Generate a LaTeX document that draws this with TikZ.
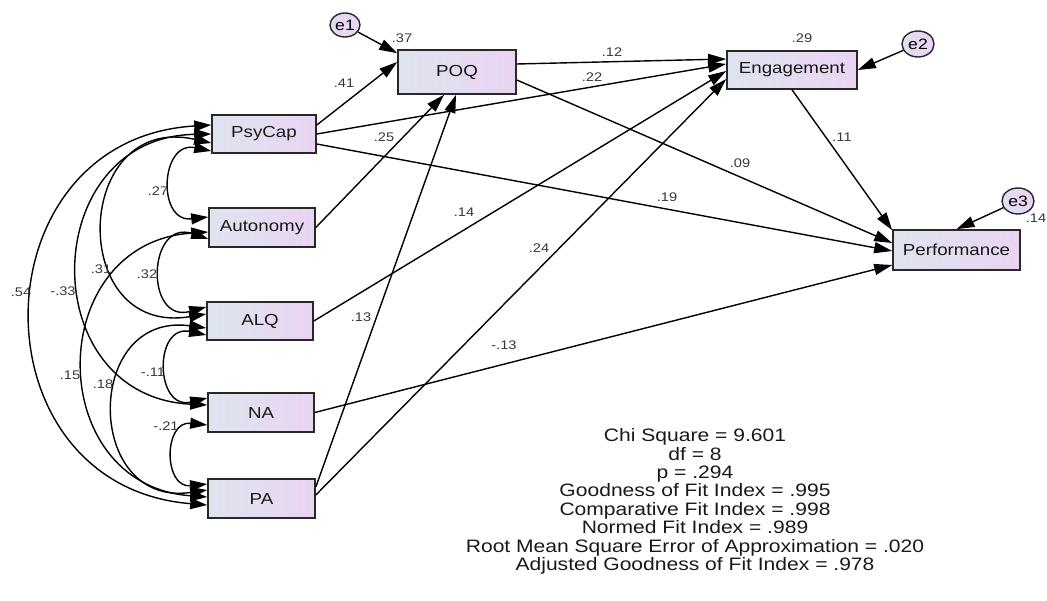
\documentclass[tikz,border=0pt]{standalone}
\usepackage{fontspec}
\setmainfont[FakeStretch=1.17]{Liberation Sans}
\usetikzlibrary{arrows.meta,shapes.geometric}

\definecolor{boxL}{RGB}{222,228,238}
\definecolor{boxR}{RGB}{234,212,242}
\definecolor{edge}{RGB}{40,40,40}
\definecolor{coef}{RGB}{55,55,55}

\tikzset{
  var/.style={draw=edge, line width=1.6pt, left color=boxL, right color=boxR,
    inner sep=0pt, font=\fontsize{16}{18}\selectfont, text=black!90},
  err/.style={ellipse, draw=edge, line width=1.4pt, left color=boxL!60!boxR,
    right color=boxR, inner sep=0pt, minimum width=32pt, minimum height=26pt,
    font=\fontsize{15}{17}\selectfont},
  path/.style={line width=1.4pt, draw=black, -{Triangle[length=18pt,width=11pt]}},
  cov/.style={line width=1.4pt, draw=black,
    {Triangle[length=17pt,width=11pt]}-{Triangle[length=17pt,width=11pt]}},
  coeff/.style={inner sep=0pt, text=coef, font=\fontsize{12.5}{14}\selectfont},
}

\begin{document}
\begin{tikzpicture}[x=1pt, y=-1pt]
\useasboundingbox (0,0) rectangle (1047,601);

% exogenous variables
\node[var, minimum width=104pt, minimum height=38pt] (psycap) at (264,134) {PsyCap};
\node[var, minimum width=106pt, minimum height=39pt] (auto) at (262,227.5) {Autonomy};
\node[var, minimum width=106pt, minimum height=38pt] (alq) at (260,321) {ALQ};
\node[var, minimum width=106pt, minimum height=39pt] (na) at (261,412.5) {NA};
\node[var, minimum width=107pt, minimum height=39pt] (pa) at (261.5,498.5) {PA};

% endogenous variables
\node[var, minimum width=118pt, minimum height=44pt] (poq) at (457,72) {POQ};
\node[var, minimum width=130pt, minimum height=38pt] (eng) at (792,70) {Engagement};
\node[var, minimum width=127pt, minimum height=40pt] (perf) at (956.5,250) {Performance};

% error terms
\node[err, minimum width=30pt, minimum height=24pt] (e1) at (345,25) {e1};
\node[err] (e2) at (918,44) {e2};
\node[err] (e3) at (1018,201) {e3};

% regression paths
\draw[path] (e1) -- ([yshift=-4pt]poq.north west);
\draw[path] (e2) -- (eng.east);
\draw[path] (e3) -- (perf.north);
\draw[path] ([yshift=9pt]psycap.east) -- ([yshift=10pt]poq.west);
\draw[path] (psycap.east) -- ([yshift=6pt]eng.west);
\draw[path] ([yshift=-10pt]psycap.east) -- ([yshift=-1pt]perf.west);
\draw[path] (auto.east) -- ([xshift=-13pt]poq.south);
\draw[path] ([yshift=11.5pt]pa.east) -- ([xshift=-1pt]poq.south);
\draw[path] ([yshift=8pt]poq.east) -- ([yshift=11pt]eng.west);
\draw[path] ([yshift=-8pt]poq.east) -- ([yshift=7pt]perf.west);
\draw[path] (alq.east) -- ([yshift=-1pt]eng.west);
\draw[path] ([yshift=3.5pt]pa.east) -- ([yshift=-9pt]eng.west);
\draw[path] (na.east) -- ([yshift=-15pt]perf.west);
\draw[path] (eng.south) -- ([yshift=-1pt]perf.north west);

% covariances
\draw[cov] ([yshift=-17pt]psycap.west) to[bend right=99, looseness=2.01] ([yshift=10.5pt]auto.west);
\draw[cov] ([yshift=-9pt]psycap.west) to[bend right=101, looseness=2.12] ([yshift=7pt]alq.west);
\draw[cov] (psycap.west) to[bend right=88, looseness=1.64] ([yshift=7.5pt]na.west);
\draw[cov] ([yshift=9pt]psycap.west) to[bend right=86, looseness=1.59] ([yshift=-6.5pt]pa.west);
\draw[cov] ([yshift=-11.5pt]auto.west) to[bend right=107, looseness=2.41] ([yshift=14pt]alq.west);
\draw[cov] ([yshift=-4.5pt]auto.west) to[bend right=86, looseness=1.59] ([yshift=1.5pt]pa.west);
\draw[cov] ([yshift=-14pt]alq.west) to[bend right=103, looseness=2.19] ([yshift=14.5pt]na.west);
\draw[cov] ([yshift=-7pt]alq.west) to[bend right=98, looseness=1.96] ([yshift=8.5pt]pa.west);
\draw[cov] ([yshift=-12.5pt]na.west) to[bend right=96, looseness=1.92] ([yshift=14.5pt]pa.west);

% squared multiple correlations
\node[coeff] (r2poq) at (402,38) {.37};
\node[coeff] (r2eng) at (802,38) {.29};
\node[coeff] (r2perf) at (1036,218) {.14};

% path coefficients
\node[coeff] (c1) at (344,83) {.41};
\node[coeff] (c2) at (384,137) {.25};
\node[coeff] (c3) at (612,52) {.12};
\node[coeff] (c4) at (592,77) {.22};
\node[coeff] (c5) at (842,137) {.11};
\node[coeff] (c6) at (740,163) {.09};
\node[coeff] (c7) at (667,197) {.19};
\node[coeff] (c8) at (464,212) {.14};
\node[coeff] (c9) at (539,248) {.24};
\node[coeff] (c10) at (361,317) {.13};
\node[coeff] (c11) at (504,345) {-.13};

% correlation coefficients
\node[coeff] (k1) at (158,191) {.27};
\node[coeff] (k2) at (101,269) {.31};
\node[coeff] (k3) at (147,274) {.32};
\node[coeff] (k4) at (21,292) {.54};
\node[coeff] (k5) at (63,291) {-.33};
\node[coeff] (k6) at (70,375) {.15};
\node[coeff] (k7) at (103,384) {.18};
\node[coeff] (k8) at (153,372) {-.11};
\node[coeff] (k9) at (166,426) {-.21};

% model fit summary
\node[align=center, inner sep=0pt, font=\fontsize{18}{18.43}\selectfont, text=black!90] (fit) at (695,501.5)
  {Chi Square = 9.601\\ df = 8\\ p = .294\\ Goodness of Fit Index = .995\\
   Comparative Fit Index = .998\\ Normed Fit Index = .989\\
   Root Mean Square Error of Approximation = .020\\ Adjusted Goodness of Fit Index = .978};
\end{tikzpicture}
\end{document}
